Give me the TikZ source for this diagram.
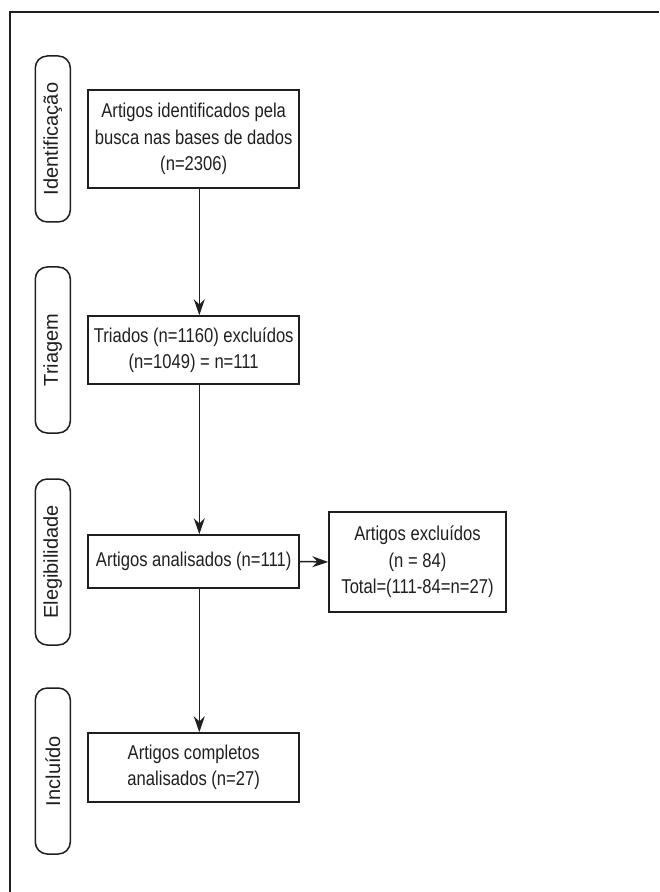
\documentclass[tikz,border=0pt]{standalone}
\usepackage{fontspec}
\setmainfont{Liberation Sans}[FakeStretch=0.83]
\newfontfamily\stagefont{Liberation Sans}
\usetikzlibrary{arrows.meta}

\definecolor {linegray}{gray}{0.12}
\tikzstyle{box} = [draw=linegray, line width=0.75pt, rectangle, align=center, inner sep=2pt, text=linegray, font=\fontsize{10}{13.2}\selectfont]

\begin{document}
\begin{tikzpicture}[x=0.5pt,y=-0.5pt,
		stage/.style = {draw=linegray, line width=0.75pt, rounded corners=6pt, rotate=90, minimum width=83pt, minimum height=17.5pt, inner sep=0pt, text=linegray, font=\stagefont\fontsize{10}{12}\selectfont},
		main/.style = {box, minimum width=105.5pt},
		arr/.style = {draw=linegray, line width=0.75pt, -{Stealth[length=8pt,width=5.5pt]}}]
		\useasboundingbox (0,0) rectangle (659,892);
		% frame
		\draw[linegray, line width=0.75pt] (10,892) -- (10,12) -- (659,12);
		% stages
		\node (s1)[stage] at (52.8,139) {Identificação};
		\node (s2)[stage] at (52.8,350) {Triagem};
		\node (s3)[stage] at (52.8,562) {Elegibilidade};
		\node (s4)[stage] at (52.8,771) {Incluído};
		% boxes
		\node (b1)[main, minimum height=49pt] at (193.7,139) {Artigos identificados pela\\busca nas bases de dados\\(n=2306)};
		\node (b2)[main, minimum height=34pt] at (193.7,350) {Triados (n=1160) excluídos\\(n=1049) = n=111};
		\node (b3)[main, minimum height=26.5pt] at (193.7,561.5) {Artigos analisados (n=111)};
		\node (b4)[box, minimum width=88.5pt, minimum height=50pt] at (417.5,562) {Artigos excluídos\\(n = 84)\\Total=(111-84=n=27)};
		\node (b5)[main, minimum height=34.5pt] at (193.7,767.5) {Artigos completos\\analisados (n=27)};
		% arrows
		\draw[arr] ([xshift=2.8pt]b1.south) -- ([xshift=2.8pt]b2.north);
		\draw[arr] ([xshift=2.8pt]b2.south) -- ([xshift=2.8pt]b3.north);
		\draw[arr] ([xshift=2.8pt]b3.south) -- ([xshift=2.8pt]b5.north);
		\draw[arr] (b3.east) -- (b4.west);
	\end{tikzpicture}
\end{document}
